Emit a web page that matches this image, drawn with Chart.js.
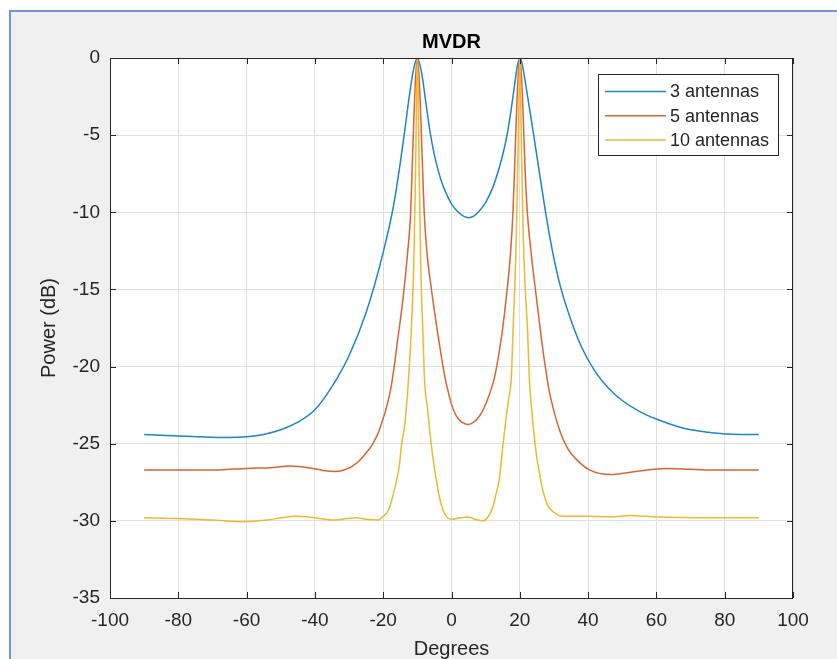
<!DOCTYPE html>
<html>
<head>
<meta charset="utf-8">
<script src="https://cdn.jsdelivr.net/npm/chart.js@4"></script>
<style>
  html, body { margin: 0; padding: 0; background: #ffffff; overflow: hidden; }
  #frame { position: absolute; left: 9px; top: 10px; width: 900px; height: 700px;
           border-left: 2px solid #6f96dc; border-top: 2px solid #6f96dc; background: #f0f0f0; }
  #c { position: absolute; left: 0; top: 0; }
</style>
</head>
<body>
<div id="frame"></div>
<canvas id="c" width="837" height="659"></canvas>
<script>
const chartTitle = 'MVDR';
const xTitle = 'Degrees';
const yTitle = 'Power (dB)';
const seriesLabels = ['3 antennas', '5 antennas', '10 antennas'];
const seriesColors = ['#1f84c8', '#dc6334', '#eeb930'];

const degrees3 = [-90,-80,-70,-65,-60,-55,-50,-45,-40,-35,-30,-25,-20,-17,-15,-13.5,-12.5,-11.5,-10.7,-10,-9.3,-8.5,-7.5,-6.2,-5,-4,-3,-2,0,2,3.5,5,6.5,8,10,12,14,15.5,16.5,17.5,18.5,19.3,20,20.7,21.5,22.5,24,26,28,30,32,35,38,42,46,50,55,60,68,75,82,90];
const power3 = [-24.4,-24.5,-24.58,-24.6,-24.55,-24.4,-24.1,-23.6,-22.8,-21.3,-19.3,-16.5,-12.6,-9.6,-6.8,-4.4,-2.7,-1.2,-0.35,0,-0.4,-1.3,-2.9,-4.9,-6.3,-7.2,-7.95,-8.55,-9.45,-10.0,-10.25,-10.35,-10.25,-9.95,-9.35,-8.45,-7.1,-5.8,-4.7,-3.3,-1.7,-0.5,0,-0.4,-1.4,-2.8,-4.9,-7.8,-10.6,-13.0,-14.9,-17.0,-18.7,-20.3,-21.4,-22.2,-22.9,-23.4,-24.0,-24.25,-24.38,-24.4];

const degrees5 = [-90,-80,-69,-60,-53,-47.4,-40.6,-37,-34.2,-31.5,-29,-27,-25,-23,-21.1,-18.3,-17.1,-15.9,-14.2,-12.8,-12.0,-11.5,-11.0,-10.5,-10,-9.5,-9.0,-8.5,-8.0,-7.2,-6,-5,-4,-3,-2,-1,0,1.4,3,4.8,6.5,8.2,9.5,11.1,12.6,14,15,16,17.3,18.0,18.5,19.0,19.5,20,20.5,21.0,21.5,22.2,23.3,24.9,26.5,27.8,29,31.6,34,36.5,40.4,46.7,54,62.8,76,90];
const power5 = [-26.7,-26.7,-26.7,-26.6,-26.55,-26.45,-26.6,-26.75,-26.8,-26.7,-26.45,-26.1,-25.6,-25.0,-24.1,-22.0,-20.5,-18.5,-15.6,-12.5,-10.2,-7.0,-3.8,-1.2,0,-1.2,-3.8,-7.0,-10.0,-12.6,-14.8,-16.4,-17.9,-19.3,-20.6,-21.6,-22.45,-23.2,-23.6,-23.75,-23.6,-23.2,-22.7,-21.8,-20.7,-19.0,-17.5,-15.6,-12.6,-10.0,-7.0,-3.8,-1.2,0,-1.2,-3.8,-7.0,-10.0,-12.6,-15.6,-18.5,-20.5,-22.0,-24.1,-25.3,-26.0,-26.7,-27.0,-26.8,-26.6,-26.7,-26.7];

const degrees10 = [-90,-80,-70,-61,-54,-50,-45.4,-40,-34.7,-30.5,-27.9,-25,-21.6,-20,-19,-18.1,-17.2,-16,-15.2,-14.7,-13.7,-12.8,-11.8,-11.0,-10.5,-10.2,-10,-9.8,-9.5,-9.0,-8.5,-7.9,-7.0,-6.4,-5.5,-4.5,-3.5,-2.5,-1.2,0,2.5,4.8,7,9.2,10.8,12.1,13,14,15,16,16.8,17.5,18,18.5,19,19.5,19.8,20,20.2,20.5,21,21.5,22.3,22.8,23.4,24.8,26,26.7,28,29.2,32.6,40,47,52,60,76,90];
const power10 = [-29.8,-29.85,-29.95,-30.05,-29.95,-29.8,-29.7,-29.8,-29.95,-29.85,-29.8,-29.9,-29.95,-29.7,-29.5,-29.1,-28.4,-27.3,-26.3,-25.2,-23.8,-21.5,-17.8,-13.0,-7.0,-2.0,0,-2.0,-7.0,-13.5,-17.0,-20.8,-22.8,-24.1,-25.8,-27.3,-28.5,-29.3,-29.8,-29.9,-29.8,-29.75,-29.9,-30.0,-29.7,-29.1,-28.3,-27.3,-25.2,-23.3,-22.0,-20.8,-17.8,-15.0,-11.5,-6.0,-2.0,0,-2.0,-6.0,-11.5,-14.5,-17.8,-20.8,-22.6,-25.6,-27.2,-28.0,-28.9,-29.3,-29.7,-29.7,-29.75,-29.65,-29.75,-29.8,-29.8];

const xMin = -100, xMax = 100, xStep = 20;
const yMin = -35, yMax = 0, yStep = 5;

const seriesX = [degrees3, degrees5, degrees10];
const seriesY = [power3, power5, power10];

const FONT = '"Liberation Sans", Arial, Helvetica, sans-serif';
const TEXT = '#262626';

const plotBg = {
  id: 'plotBg',
  beforeDraw(chart) {
    const {ctx, chartArea: a} = chart;
    ctx.save();
    ctx.fillStyle = '#ffffff';
    ctx.fillRect(a.left, a.top, a.right - a.left, a.bottom - a.top);
    ctx.restore();
  }
};

const boxAndLegend = {
  id: 'boxAndLegend',
  afterDatasetsDraw(chart) {
    const {ctx, chartArea: a, scales} = chart;
    ctx.save();
    ctx.strokeStyle = TEXT;
    ctx.lineWidth = 1;
    ctx.beginPath();
    const tl = 6;
    scales.x.ticks.forEach(t => {
      const px = Math.round(scales.x.getPixelForValue(t.value)) + 0.5;
      ctx.moveTo(px, a.bottom); ctx.lineTo(px, a.bottom - tl);
      ctx.moveTo(px, a.top); ctx.lineTo(px, a.top + tl);
    });
    scales.y.ticks.forEach(t => {
      const py = Math.round(scales.y.getPixelForValue(t.value)) + 0.5;
      ctx.moveTo(a.left, py); ctx.lineTo(a.left + tl, py);
      ctx.moveTo(a.right, py); ctx.lineTo(a.right - tl, py);
    });
    ctx.stroke();
    ctx.strokeRect(Math.round(a.left) + 0.5, Math.round(a.top) + 0.5,
                   Math.round(a.right - a.left) - 1, Math.round(a.bottom - a.top));

    // legend
    ctx.font = '18px ' + FONT;
    const labels = chart.data.datasets.map(d => d.label);
    const maxW = Math.max(...labels.map(l => ctx.measureText(l).width));
    const lineStart = 7, lineLen = 61, textGap = 4;
    const w = lineStart + lineLen + textGap + maxW + 9;
    const rowH = 24.3, h = 81;
    const right = a.right - 15, top = a.top + 16;
    const left = right - w;
    ctx.fillStyle = '#ffffff';
    ctx.fillRect(left, top, w, h);
    ctx.strokeStyle = TEXT;
    ctx.strokeRect(Math.round(left) + 0.5, Math.round(top) + 0.5, Math.round(w), Math.round(h));
    chart.data.datasets.forEach((d, i) => {
      const y = top + 17.5 + i * rowH;
      ctx.strokeStyle = d.borderColor;
      ctx.lineWidth = 1.5;
      ctx.beginPath();
      ctx.moveTo(left + lineStart, y);
      ctx.lineTo(left + lineStart + lineLen, y);
      ctx.stroke();
      ctx.fillStyle = TEXT;
      ctx.textAlign = 'left';
      ctx.textBaseline = 'middle';
      ctx.fillText(d.label, left + lineStart + lineLen + textGap, y + 1);
    });
    ctx.restore();
  }
};

new Chart(document.getElementById('c'), {
  type: 'line',
  data: {
    datasets: seriesLabels.map((label, i) => ({
      label,
      data: seriesX[i].map((x, j) => ({x, y: seriesY[i][j]})),
      borderColor: seriesColors[i],
      backgroundColor: seriesColors[i],
      borderWidth: 1.5,
      pointRadius: 0,
      fill: false,
      cubicInterpolationMode: 'monotone',
      order: 2 - i
    }))
  },
  options: {
    responsive: false,
    animation: false,
    devicePixelRatio: 1,
    layout: { padding: { left: 0, right: 44, top: 0, bottom: 0 } },
    plugins: {
      legend: { display: false },
      tooltip: { enabled: false },
      title: {
        display: true,
        text: chartTitle,
        fullSize: false,
        color: '#000000',
        font: { family: FONT, size: 20, weight: 'bold', lineHeight: 1.2 },
        padding: { top: 30, bottom: 4 }
      }
    },
    scales: {
      x: {
        type: 'linear',
        min: xMin, max: xMax,
        afterFit(s) { s.height = 61; },
        ticks: { stepSize: xStep, color: TEXT, padding: 11, maxRotation: 0,
                 font: { family: FONT, size: 19, lineHeight: 1.2 } },
        grid: { color: '#e0e0e0', lineWidth: 1, drawTicks: false },
        border: { display: false },
        title: { display: true, text: xTitle, color: TEXT,
                 font: { family: FONT, size: 20, lineHeight: 1 },
                 padding: { top: 0, bottom: 0 } }
      },
      y: {
        type: 'linear',
        min: yMin, max: yMax,
        afterFit(s) { s.width = 110; },
        ticks: { stepSize: yStep, color: TEXT, padding: 10,
                 font: { family: FONT, size: 19, lineHeight: 1.2 } },
        grid: { color: '#e0e0e0', lineWidth: 1, drawTicks: false },
        border: { display: false },
        title: { display: true, text: yTitle, color: TEXT,
                 font: { family: FONT, size: 20, lineHeight: 1.2 },
                 padding: { top: 37, bottom: 0 } }
      }
    }
  },
  plugins: [plotBg, boxAndLegend]
});
</script>
</body>
</html>
